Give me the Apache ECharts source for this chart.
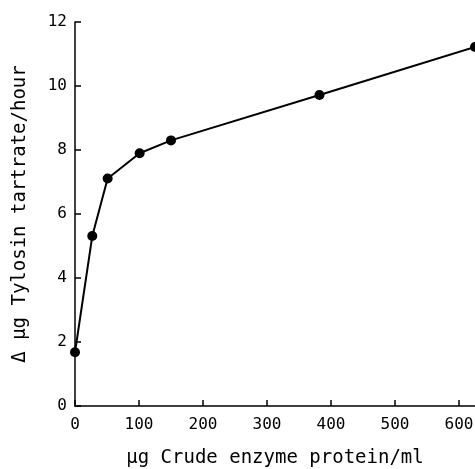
<!DOCTYPE html>
<html>
<head>
<meta charset="utf-8">
<script src="https://cdn.jsdelivr.net/npm/echarts@6/dist/echarts.min.js"></script>
<style>html,body{margin:0;padding:0;background:#fff}#c{width:475px;height:469px}</style>
</head>
<body>
<div id="c"></div>
<script>
const xValues = [0, 27, 51, 101, 150, 382, 625];
const yValues = [1.68, 5.31, 7.11, 7.9, 8.3, 9.72, 11.22];
const xTicks = [0, 100, 200, 300, 400, 500, 600];
const yTicks = [0, 2, 4, 6, 8, 10, 12];
const xTitle = 'μg Crude enzyme protein/ml';
const yTitle = 'Δ μg Tylosin tartrate/hour';

const font = 'DejaVu Sans Mono';
const chart = echarts.init(document.getElementById('c'), null, {renderer: 'canvas'});
chart.setOption({
  backgroundColor: '#fff',
  animation: false,
  grid: {left: 75, right: 0, top: 22, bottom: 63, containLabel: false, outerBoundsMode: 'none'},
  xAxis: {
    type: 'value', min: 0, max: 625,
    name: xTitle, nameLocation: 'middle', nameGap: 43,
    nameTextStyle: {color: '#000', fontFamily: font, fontSize: 19},
    axisLine: {show: true, lineStyle: {color: '#000', width: 1.5}},
    axisTick: {show: true, inside: true, length: 6, lineStyle: {color: '#000', width: 1.5}, customValues: xTicks},
    axisLabel: {color: '#000', fontFamily: font, fontSize: 16, margin: 11, customValues: xTicks},
    splitLine: {show: false}
  },
  yAxis: {
    type: 'value', min: 0, max: 12, interval: 2,
    name: yTitle, nameLocation: 'middle', nameGap: 45, nameRotate: 90,
    nameTextStyle: {color: '#000', fontFamily: font, fontSize: 19},
    axisLine: {show: true, lineStyle: {color: '#000', width: 1.5}},
    axisTick: {show: true, inside: true, length: 6, lineStyle: {color: '#000', width: 1.5}, customValues: yTicks},
    axisLabel: {color: '#000', fontFamily: font, fontSize: 16, margin: 8, customValues: yTicks},
    splitLine: {show: false}
  },
  series: [{
    type: 'line',
    data: xValues.map((x, i) => [x, yValues[i]]),
    symbol: 'circle', symbolSize: 10,
    clip: false,
    lineStyle: {color: '#000', width: 2},
    itemStyle: {color: '#000'}
  }]
});
</script>
</body>
</html>
